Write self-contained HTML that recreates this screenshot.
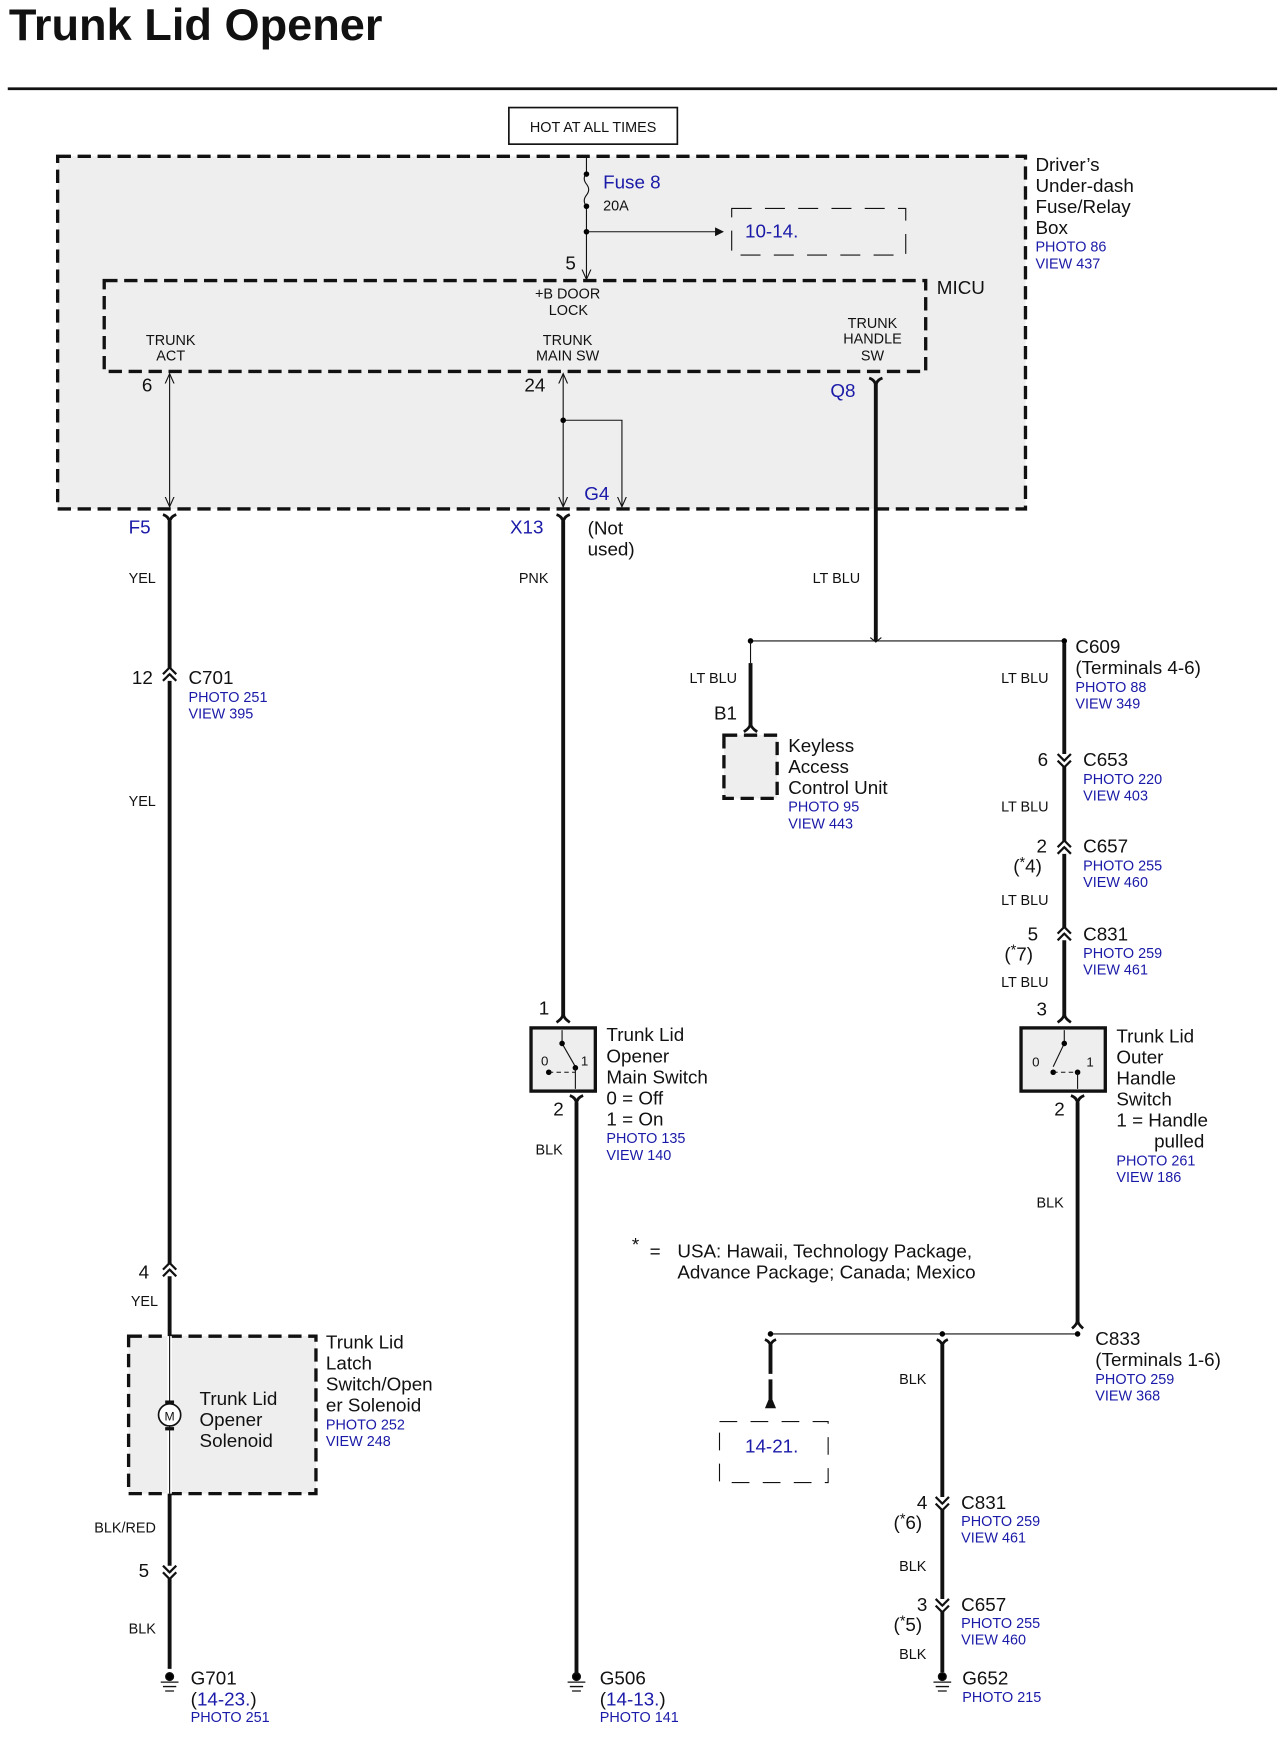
<!DOCTYPE html>
<html><head><meta charset="utf-8"><style>
html,body{margin:0;padding:0;background:#fff}
svg{display:block}
text{font-family:"Liberation Sans",sans-serif;fill:#111}
.b{fill:#1a1aa8}
.s{font-size:13px}
.m{font-size:17px}
.w{stroke:#111;stroke-width:3.5;fill:none}
.t{stroke:#111;stroke-width:1;fill:none}
.d{stroke:#111;stroke-width:3;stroke-dasharray:12 6}
</style></head><body>
<svg width="1286" height="1742" viewBox="0 0 1160 1571" preserveAspectRatio="none" xmlns="http://www.w3.org/2000/svg">
<defs>
<marker id="ar" markerWidth="8" markerHeight="8" refX="7" refY="4" orient="auto"><path d="M0,0 L8,4 L0,8 z" fill="#111"/></marker>
<marker id="oa" markerWidth="10" markerHeight="10" refX="9" refY="5" orient="auto"><path d="M0,1 L9,5 L0,9" stroke="#111" fill="none" stroke-width="1"/></marker>
</defs>
<text x="8" y="36" style="font-size:40px;font-weight:bold" textLength="337" lengthAdjust="spacingAndGlyphs">Trunk Lid Opener</text>
<line x1="7" y1="80" x2="1152" y2="80" stroke="#111" stroke-width="2.5"/>
<rect x="459" y="97" width="152" height="33" fill="#fff" stroke="#111" stroke-width="1.5"/>
<text x="535" y="119" class="s" text-anchor="middle">HOT AT ALL TIMES</text>
<rect x="52" y="141" width="873" height="318" style="fill:#eeeeee" class="d"/>
<text x="934" y="154" class="m">Driver’s</text><text x="934" y="173" class="m">Under-dash</text><text x="934" y="192" class="m">Fuse/Relay</text><text x="934" y="211" class="m">Box</text>
<text x="934" y="227" class="s b">PHOTO 86</text><text x="934" y="242" class="s b">VIEW 437</text>
<path d="M529 141 V156 M529 186 V252" class="t" marker-end="url(#oa)"/>
<path d="M529 156 q-4 5 0 10 q4 5 0 10 q-4 5 0 10" class="t"/>
<circle cx="529" cy="157" r="2.5"/><circle cx="529" cy="186" r="2.5"/><circle cx="529" cy="209" r="2.5"/>
<text x="544" y="170" class="m b">Fuse 8</text><text x="544" y="190" class="s">20A</text>
<line x1="529" y1="209" x2="652" y2="209" class="t" marker-end="url(#ar)"/>
<rect x="660" y="188" width="157" height="42" fill="none" stroke="#111" stroke-width="1" stroke-dasharray="18 12"/>
<text x="672" y="214" class="m b">10-14.</text>
<text x="510" y="243" class="m">5</text>
<rect x="94" y="253" width="741" height="82" style="fill:none" class="d"/>
<text x="845" y="265" class="m">MICU</text>
<text x="512" y="269" class="s" text-anchor="middle">+B DOOR</text><text x="495" y="284" class="s">LOCK</text>
<text x="154" y="311" class="s" text-anchor="middle">TRUNK</text><text x="154" y="325" class="s" text-anchor="middle">ACT</text>
<text x="512" y="311" class="s" text-anchor="middle">TRUNK</text><text x="512" y="325" class="s" text-anchor="middle">MAIN SW</text>
<text x="787" y="296" class="s" text-anchor="middle">TRUNK</text><text x="787" y="310" class="s" text-anchor="middle">HANDLE</text><text x="787" y="325" class="s" text-anchor="middle">SW</text>
<text x="128" y="353" class="m">6</text><text x="473" y="353" class="m">24</text><text x="749" y="358" class="m b">Q8</text>
<path d="M153 400 V337" class="t" marker-end="url(#oa)"/><path d="M153 400 V457" class="t" marker-end="url(#oa)"/>
<path d="M508 400 V337" class="t" marker-end="url(#oa)"/><path d="M508 400 V457" class="t" marker-end="url(#oa)"/>
<path d="M508 379 H561 V457" class="t" marker-end="url(#oa)"/><circle cx="508" cy="379" r="2.5"/>
<text x="527" y="451" class="m b">G4</text>
<path d="M784 341 Q790 343 790 349 Q790 343 796 341 M147 464 Q153 466 153 472 Q153 466 159 464 M502 464 Q508 466 508 472 Q508 466 514 464" stroke="#111" stroke-width="2.5" fill="none"/>
<line x1="790" y1="346" x2="790" y2="578" class="w"/>
<line x1="153" y1="470" x2="153" y2="1505" class="w"/>
<line x1="508" y1="470" x2="508" y2="917" class="w"/>
<text x="116" y="481" class="m b">F5</text><text x="460" y="481" class="m b">X13</text>
<text x="530" y="482" class="m">(Not</text><text x="530" y="501" class="m">used)</text>
<text x="116" y="526" class="s">YEL</text><text x="468" y="526" class="s">PNK</text><text x="733" y="526" class="s">LT BLU</text>
<path d="M147 608 L153 602 L159 608 M147 614 L153 608 L159 614" stroke="#111" stroke-width="2" fill="#fff"/>
<text x="119" y="617" class="m">12</text><text x="170" y="617" class="m">C701</text>
<text x="170" y="633" class="s b">PHOTO 251</text><text x="170" y="648" class="s b">VIEW 395</text>
<text x="116" y="727" class="s">YEL</text>
<path d="M147 1145 L153 1139 L159 1145 M147 1151 L153 1145 L159 1151" stroke="#111" stroke-width="2" fill="#fff"/>
<text x="125" y="1153" class="m">4</text><text x="118" y="1178" class="s">YEL</text>
<rect x="116" y="1205" width="169" height="142" style="fill:#eeeeee" class="d"/>
<line x1="153" y1="1205" x2="153" y2="1347" stroke="#fff" stroke-width="4"/>
<line x1="153" y1="1205" x2="153" y2="1347" class="t"/>
<circle cx="153" cy="1276" r="10" fill="#fff" stroke="#111" stroke-width="1.5"/>
<rect x="149" y="1263" width="8" height="3" fill="#111"/><rect x="149" y="1287" width="8" height="3" fill="#111"/>
<text x="153" y="1281" text-anchor="middle" style="font-size:11px">M</text>
<text x="180" y="1267" class="m">Trunk Lid</text><text x="180" y="1286" class="m">Opener</text><text x="180" y="1305" class="m">Solenoid</text>
<text x="294" y="1216" class="m">Trunk Lid</text><text x="294" y="1235" class="m">Latch</text><text x="294" y="1254" class="m">Switch/Open</text><text x="294" y="1273" class="m">er Solenoid</text>
<text x="294" y="1289" class="s b">PHOTO 252</text><text x="294" y="1304" class="s b">VIEW 248</text>
<text x="85" y="1382" class="s">BLK/RED</text>
<path d="M147 1412 L153 1418 L159 1412 M147 1418 L153 1424 L159 1418" stroke="#111" stroke-width="2" fill="#fff"/>
<text x="125" y="1422" class="m">5</text><text x="116" y="1473" class="s">BLK</text>
<g stroke="#111" stroke-width="1.2">
<circle cx="153" cy="1512" r="3.5"/><path d="M145 1517 H161 M147 1521 H159 M149 1525 H157"/>
<circle cx="520" cy="1512" r="3.5"/><path d="M512 1517 H528 M514 1521 H526 M516 1525 H524"/>
<circle cx="850" cy="1512" r="3.5"/><path d="M842 1517 H858 M844 1521 H856 M846 1525 H854"/>
</g>
<text x="172" y="1519" class="m">G701</text><text x="172" y="1538" class="m">(<tspan class="b">14-23.</tspan>)</text><text x="172" y="1553" class="s b">PHOTO 251</text>
<text x="541" y="1519" class="m">G506</text><text x="541" y="1538" class="m">(<tspan class="b">14-13.</tspan>)</text><text x="541" y="1553" class="s b">PHOTO 141</text>
<text x="868" y="1519" class="m">G652</text><text x="868" y="1535" class="s b">PHOTO 215</text>
<path d="M502 922 Q508 918 508 914 Q508 918 514 922" stroke="#111" stroke-width="2.5" fill="none"/>
<text x="486" y="915" class="m">1</text>
<rect x="479" y="927" width="58" height="57" fill="#eeeeee" stroke="#111" stroke-width="3"/>
<path d="M507 929 V940" class="t"/><path d="M507 941 L519 962" class="t"/><circle cx="507" cy="941" r="2.5"/><circle cx="519" cy="963" r="2.5"/><circle cx="495" cy="967" r="2.5"/>
<path d="M495 967 H519" class="t" stroke-dasharray="4 3"/><path d="M519 963 V982" class="t"/>
<text x="488" y="961" style="font-size:12px">0</text><text x="524" y="961" style="font-size:12px">1</text>
<path d="M514 988 Q520 990 520 996 Q520 990 526 988" stroke="#111" stroke-width="2.5" fill="none"/>
<line x1="520" y1="994" x2="520" y2="1510" class="w"/>
<text x="499" y="1006" class="m">2</text><text x="483" y="1041" class="s">BLK</text>
<text x="547" y="939" class="m">Trunk Lid</text><text x="547" y="958" class="m">Opener</text><text x="547" y="977" class="m">Main Switch</text><text x="547" y="996" class="m">0 = Off</text><text x="547" y="1015" class="m">1 = On</text>
<text x="547" y="1031" class="s b">PHOTO 135</text><text x="547" y="1046" class="s b">VIEW 140</text>
<line x1="677" y1="578" x2="960" y2="578" class="t"/>
<circle cx="677" cy="578" r="2.5"/><circle cx="960" cy="578" r="2.5"/><path d="M785 575 L790 579 L795 575" class="t"/>
<line x1="677" y1="578" x2="677" y2="598" class="t"/><line x1="677" y1="598" x2="677" y2="655" class="w"/>
<path d="M671 660 Q677 656 677 652 Q677 656 683 660" stroke="#111" stroke-width="2.5" fill="none"/>
<text x="622" y="616" class="s">LT BLU</text><text x="644" y="649" class="m">B1</text>
<rect x="653" y="663" width="48" height="57" style="fill:#eeeeee" class="d"/>
<text x="711" y="678" class="m">Keyless</text><text x="711" y="697" class="m">Access</text><text x="711" y="716" class="m">Control Unit</text>
<text x="711" y="732" class="s b">PHOTO 95</text><text x="711" y="747" class="s b">VIEW 443</text>
<line x1="960" y1="580" x2="960" y2="918" class="w"/>
<text x="970" y="589" class="m">C609</text><text x="970" y="608" class="m">(Terminals 4-6)</text><text x="970" y="624" class="s b">PHOTO 88</text><text x="970" y="639" class="s b">VIEW 349</text>
<text x="903" y="616" class="s">LT BLU</text>
<path d="M954 680 L960 686 L966 680 M954 686 L960 692 L966 686" stroke="#111" stroke-width="2" fill="#fff"/>
<text x="936" y="691" class="m">6</text><text x="977" y="691" class="m">C653</text><text x="977" y="707" class="s b">PHOTO 220</text><text x="977" y="722" class="s b">VIEW 403</text>
<text x="903" y="732" class="s">LT BLU</text>
<path d="M954 764 L960 758 L966 764 M954 770 L960 764 L966 770" stroke="#111" stroke-width="2" fill="#fff"/>
<text x="935" y="769" class="m">2</text><text x="914" y="787" class="m">(<tspan dy="-5" class="s">*</tspan><tspan dy="5">4)</tspan></text>
<text x="977" y="769" class="m">C657</text><text x="977" y="785" class="s b">PHOTO 255</text><text x="977" y="800" class="s b">VIEW 460</text>
<text x="903" y="816" class="s">LT BLU</text>
<path d="M954 842 L960 836 L966 842 M954 848 L960 842 L966 848" stroke="#111" stroke-width="2" fill="#fff"/>
<text x="927" y="848" class="m">5</text><text x="906" y="866" class="m">(<tspan dy="-5" class="s">*</tspan><tspan dy="5">7)</tspan></text>
<text x="977" y="848" class="m">C831</text><text x="977" y="864" class="s b">PHOTO 259</text><text x="977" y="879" class="s b">VIEW 461</text>
<text x="903" y="890" class="s">LT BLU</text>
<path d="M954 922 Q960 918 960 914 Q960 918 966 922" stroke="#111" stroke-width="2.5" fill="none"/>
<text x="935" y="916" class="m">3</text>
<rect x="921" y="927" width="76" height="57" fill="#eeeeee" stroke="#111" stroke-width="3"/>
<path d="M960 929 V940" class="t"/><path d="M960 941 L950 962" class="t"/><circle cx="960" cy="941" r="2.5"/><circle cx="950" cy="967" r="2.5"/><circle cx="972" cy="967" r="2.5"/>
<path d="M950 967 H972" class="t" stroke-dasharray="4 3"/><path d="M972 967 V982" class="t"/>
<text x="931" y="962" style="font-size:12px">0</text><text x="980" y="962" style="font-size:12px">1</text>
<text x="1007" y="940" class="m">Trunk Lid</text><text x="1007" y="959" class="m">Outer</text><text x="1007" y="978" class="m">Handle</text><text x="1007" y="997" class="m">Switch</text><text x="1007" y="1016" class="m">1 = Handle</text><text x="1041" y="1035" class="m">pulled</text>
<text x="1007" y="1051" class="s b">PHOTO 261</text><text x="1007" y="1066" class="s b">VIEW 186</text>
<path d="M966 988 Q972 990 972 996 Q972 990 978 988" stroke="#111" stroke-width="2.5" fill="none"/>
<text x="951" y="1006" class="m">2</text>
<line x1="972" y1="994" x2="972" y2="1193" class="w"/><text x="935" y="1089" class="s">BLK</text>
<text x="570" y="1128" class="m">*</text><text x="586" y="1134" class="m">=</text>
<text x="611" y="1134" class="m">USA: Hawaii, Technology Package,</text><text x="611" y="1153" class="m">Advance Package; Canada; Mexico</text>
<path d="M967 1198 Q972 1194 972 1190 Q972 1194 977 1198" stroke="#111" stroke-width="2.5" fill="none"/>
<line x1="695" y1="1203" x2="972" y2="1203" class="t"/><circle cx="972" cy="1203" r="2.5"/><circle cx="695" cy="1203" r="2.5"/><circle cx="850" cy="1203" r="2.5"/>
<text x="988" y="1213" class="m">C833</text><text x="988" y="1232" class="m">(Terminals 1-6)</text><text x="988" y="1248" class="s b">PHOTO 259</text><text x="988" y="1263" class="s b">VIEW 368</text>
<path d="M690 1208 Q695 1210 695 1215 Q695 1210 700 1208 M845 1208 Q850 1210 850 1215 Q850 1210 855 1208" stroke="#111" stroke-width="2.5" fill="none"/>
<line x1="695" y1="1213" x2="695" y2="1262" class="w" stroke-dasharray="26 5"/>
<path d="M690 1270 L695 1258 L700 1270 z" fill="#111"/>
<rect x="649" y="1282" width="98" height="55" fill="none" stroke="#111" stroke-width="1" stroke-dasharray="16 12"/>
<text x="672" y="1310" class="m b">14-21.</text>
<line x1="850" y1="1213" x2="850" y2="1508" class="w"/>
<text x="811" y="1248" class="s">BLK</text>
<path d="M844 1350 L850 1356 L856 1350 M844 1356 L850 1362 L856 1356" stroke="#111" stroke-width="2" fill="#fff"/>
<text x="827" y="1361" class="m">4</text><text x="806" y="1379" class="m">(<tspan dy="-5" class="s">*</tspan><tspan dy="5">6)</tspan></text>
<text x="867" y="1361" class="m">C831</text><text x="867" y="1376" class="s b">PHOTO 259</text><text x="867" y="1391" class="s b">VIEW 461</text>
<text x="811" y="1417" class="s">BLK</text>
<path d="M844 1442 L850 1448 L856 1442 M844 1448 L850 1454 L856 1448" stroke="#111" stroke-width="2" fill="#fff"/>
<text x="827" y="1453" class="m">3</text><text x="806" y="1471" class="m">(<tspan dy="-5" class="s">*</tspan><tspan dy="5">5)</tspan></text>
<text x="867" y="1453" class="m">C657</text><text x="867" y="1468" class="s b">PHOTO 255</text><text x="867" y="1483" class="s b">VIEW 460</text>
<text x="811" y="1496" class="s">BLK</text>
</svg>
</body></html>
